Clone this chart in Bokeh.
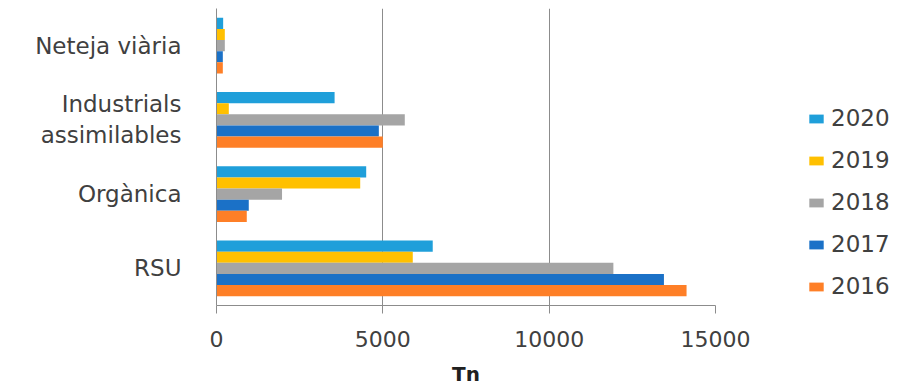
from bokeh.plotting import figure
from bokeh.models import FactorRange, Range1d, FixedTicker, Legend, LegendItem, ColumnDataSource
from bokeh.transform import dodge
from bokeh.embed import file_html
from bokeh.resources import INLINE

categories = ["RSU", "Orgànica", "Industrials\nassimilables", "Neteja viària"]
years = ["2020", "2019", "2018", "2017", "2016"]
v2020 = [6500, 4500, 3550, 200]
v2019 = [5900, 4320, 370, 250]
v2018 = [11930, 1970, 5660, 250]
v2017 = [13450, 970, 4880, 190]
v2016 = [14130, 910, 5000, 190]
x_ticks = [0, 5000, 10000, 15000]

colors = ["#1f9fda", "#ffc000", "#a5a5a5", "#1b71c7", "#fe7f27"]
offsets = [0.3, 0.15, 0.0, -0.15, -0.3]
series = [v2020, v2019, v2018, v2017, v2016]

src = ColumnDataSource(dict(cat=categories, **{"y" + y: s for y, s in zip(years, series)}))

FONT = "DejaVu Sans"
TXT = "#404040"
GRID = "#8c8c8c"

p = figure(frame_width=499, frame_height=297, y_range=FactorRange(*categories, range_padding=0),
           x_range=Range1d(0, 15000), output_backend="svg", toolbar_location=None,
           min_border_left=216, min_border_right=0, min_border_top=8, min_border_bottom=40)
p.outline_line_color = None

items = []
for y, off, c in zip(years, offsets, colors):
    r = p.hbar(y=dodge("cat", off, range=p.y_range), left=0, right="y" + y, height=0.15,
               source=src, fill_color=c, line_color=None)
    items.append(LegendItem(label=y, renderers=[r]))

p.xaxis.ticker = FixedTicker(ticks=x_ticks)
p.xaxis.axis_line_color = GRID
p.xaxis.major_tick_line_color = GRID
p.xaxis.major_tick_out = 8
p.xaxis.major_tick_in = 0
p.xaxis.minor_tick_line_color = None
p.xaxis.major_label_standoff = 17
p.xaxis.major_label_text_font = FONT
p.xaxis.major_label_text_font_size = "22px"
p.xaxis.major_label_text_color = TXT
p.xaxis.axis_label = "Tn"
p.xaxis.axis_label_text_font = FONT
p.xaxis.axis_label_text_font_size = "20px"
p.xaxis.axis_label_text_font_style = "bold"
p.xaxis.axis_label_text_color = "#202020"
p.xaxis.axis_label_standoff = 12

p.yaxis.axis_line_color = GRID
p.yaxis.major_tick_line_color = None
p.yaxis.minor_tick_line_color = None
p.yaxis.major_label_standoff = 29
p.yaxis.major_label_text_font = FONT
p.yaxis.major_label_text_font_size = "23px"
p.yaxis.major_label_text_color = TXT

p.xgrid.grid_line_color = GRID
p.xgrid.ticker = FixedTicker(ticks=x_ticks[1:])
p.ygrid.grid_line_color = None

legend = Legend(items=items, location=(92, 6), orientation="vertical",
                glyph_width=18, glyph_height=11, label_height=20, spacing=16,
                padding=0, margin=0, label_standoff=6,
                label_text_font=FONT, label_text_font_size="23px", label_text_color=TXT,
                border_line_color=None, background_fill_alpha=0)
p.add_layout(legend, "right")

open("out.html", "w").write(file_html(p, INLINE))
